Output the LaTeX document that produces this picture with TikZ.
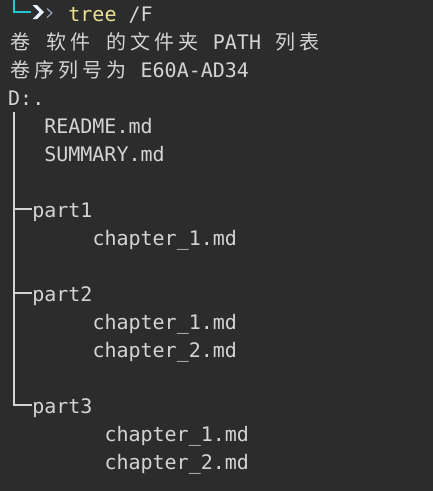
\documentclass[tikz,border=0pt]{standalone}
\usepackage{fontspec}
\setmonofont{DejaVu Sans Mono}
\newfontfamily\cjk{Noto Sans CJK SC}
\definecolor{termbg}{RGB}{44,44,44}
\definecolor{termfg}{RGB}{212,212,212}
\definecolor{cmdyellow}{RGB}{236,226,146}
\definecolor{promptcyan}{RGB}{38,196,206}
\definecolor{promptarrow}{RGB}{232,242,255}
\definecolor{promptthin}{RGB}{160,184,208}
% one CJK character takes two columns of the terminal
\newcommand{\cc}[1]{\makebox[24.08pt][c]{\cjk #1}}
\begin{document}
\begin{tikzpicture}[x=1pt,y=-1pt,
  line/.style={anchor=base west, inner sep=0pt, text=termfg,
    font=\ttfamily\fontsize{20}{28}\selectfont},
  treeline/.style={draw=termfg, line width=2pt}]
\fill[termbg] (0,0) rectangle (433,491);
\useasboundingbox (0,0) rectangle (433,491);
% prompt
\draw[promptcyan, line width=2pt] (14,0) -- (14,12) -- (31,12);
\fill[promptarrow] (32.5,5) -- (37,5) -- (44,12) -- (37,19) -- (32.5,19) -- (39.5,12) -- cycle;
\draw[promptthin, line width=1pt] (47,8.5) -- (52,13) -- (47,17.5);
\node[line] (cmd) at (68.2,21) {{\color{cmdyellow}tree} /F};
% header
\node[line] (title) at (8,49) {\cc{卷} \cc{软}\cc{件} \cc{的}\cc{文}\cc{件}\cc{夹} PATH \cc{列}\cc{表}};
\node[line] (serial) at (8,77) {\cc{卷}\cc{序}\cc{列}\cc{号}\cc{为} E60A-AD34};
\node[line] (root) at (8,105) {D:.};
% files
\node[line] (readme) at (44.1,133) {README.md};
\node[line] (summary) at (44.1,161) {SUMMARY.md};
\node[line] (p1) at (32.1,217) {part1};
\node[line] (p1c1) at (92.3,245) {chapter\_1.md};
\node[line] (p2) at (32.1,301) {part2};
\node[line] (p2c1) at (92.3,329) {chapter\_1.md};
\node[line] (p2c2) at (92.3,357) {chapter\_2.md};
\node[line] (p3) at (32.1,413) {part3};
\node[line] (p3c1) at (104.3,441) {chapter\_1.md};
\node[line] (p3c2) at (104.3,469) {chapter\_2.md};
% tree branches
\coordinate (trunk) at (14,112);
\coordinate (b1) at ([yshift=8.5pt]p1.base west);
\coordinate (b2) at ([yshift=8.5pt]p2.base west);
\coordinate (b3) at ([yshift=8.5pt]p3.base west);
\draw[treeline] (trunk) |- (b3);
\draw[treeline] (b1 -| trunk) -- (b1);
\draw[treeline] (b2 -| trunk) -- (b2);
\end{tikzpicture}
\end{document}
